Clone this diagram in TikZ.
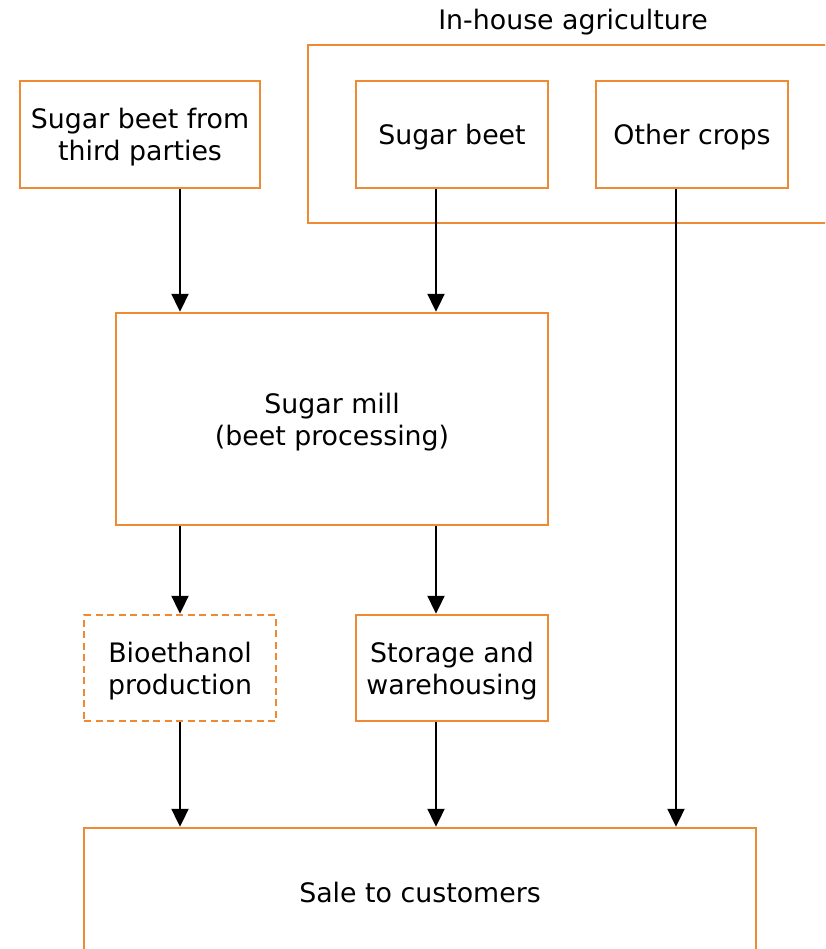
\documentclass[tikz,border=0pt]{standalone}
\usepackage{fontspec}
\setmainfont{DejaVu Sans}
\usetikzlibrary{arrows.meta}
\definecolor{boxorange}{RGB}{238,137,52}
\tikzset{
  obox/.style={draw=boxorange, line width=2.4pt, rectangle, inner sep=0pt},
  dbox/.style={obox, dash pattern=on 7pt off 4.5pt},
  arr/.style={draw=black, line width=2pt, -{Triangle[length=18pt,width=17pt]}},
  lbl/.style={font=\fontsize{26.8}{32}\selectfont, inner sep=0pt, align=center}
}
\begin{document}
\begin{tikzpicture}[x=1pt,y=-1pt]
\useasboundingbox (0,0) rectangle (825,949);
\clip (0,0) rectangle (825,949);
% container
\node[obox, minimum width=534pt, minimum height=178pt] (inhouse) at (575,134) {};
\node[lbl] (inhouselbl) at (573,22) {In-house agriculture};
% top boxes
\node[obox, minimum width=240pt, minimum height=107pt] (third) at (140,134.5) {};
\node[obox, minimum width=192pt, minimum height=107pt] (beet) at (452,134.5) {};
\node[obox, minimum width=192pt, minimum height=107pt] (other) at (692,134.5) {};
% mill
\node[obox, minimum width=432pt, minimum height=212pt] (mill) at (332,419) {};
% middle boxes
\node[dbox, minimum width=192pt, minimum height=106pt] (bio) at (180,668) {};
\node[obox, minimum width=192pt, minimum height=106pt] (store) at (452,668) {};
% sale
\node[obox, minimum width=672pt, minimum height=134pt] (sale) at (420,895) {};
% texts
\node[lbl] (thirdlbl) at ([yshift=-3pt]third.center) {Sugar beet from\\third parties};
\node[lbl] (beetlbl) at ([yshift=-3pt]beet.center) {Sugar beet};
\node[lbl] (otherlbl) at ([yshift=-3pt]other.center) {Other crops};
\node[lbl] (milllbl) at ([yshift=-3pt]mill.center) {Sugar mill\\(beet processing)};
\node[lbl] (biolbl) at ([yshift=-3pt]bio.center) {Bioethanol\\production};
\node[lbl] (storelbl) at ([yshift=-3pt]store.center) {Storage and\\warehousing};
\node[lbl] (salelbl) at (420,892) {Sale to customers};
% columns
\coordinate (c1) at (180,0);
\coordinate (c2) at (436,0);
\coordinate (c3) at (676,0);
% connectors
\draw[arr] (third.south -| c1) -- (mill.north -| c1);
\draw[arr] (beet.south -| c2) -- (mill.north -| c2);
\draw[arr] (other.south -| c3) -- (sale.north -| c3);
\draw[arr] (mill.south -| c1) -- (bio.north -| c1);
\draw[arr] (mill.south -| c2) -- (store.north -| c2);
\draw[arr] (bio.south -| c1) -- (sale.north -| c1);
\draw[arr] (store.south -| c2) -- (sale.north -| c2);
\end{tikzpicture}
\end{document}
